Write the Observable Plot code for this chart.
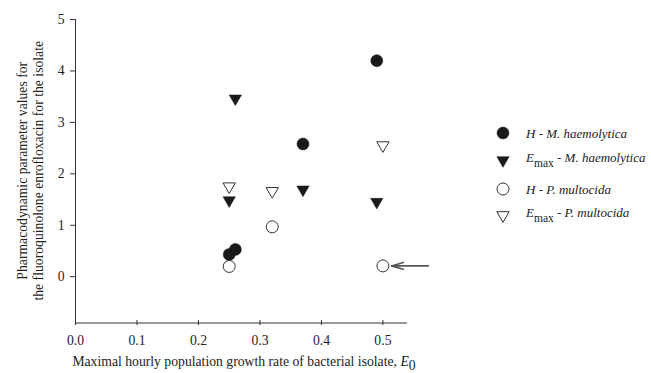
<!DOCTYPE html>
<html>
<head>
<meta charset="utf-8">
<script src="https://cdn.jsdelivr.net/npm/d3@7"></script>
<script src="https://cdn.jsdelivr.net/npm/@observablehq/plot@0.6"></script>
<style>
  html, body { margin: 0; padding: 0; background: #fff; }
  #chart { width: 651px; height: 373px; }
  svg { font-family: "Liberation Serif", "DejaVu Serif", serif; }
</style>
</head>
<body>
<div id="chart"></div>
<script>
// ---- data ----
const xTicks = [0, 0.1, 0.2, 0.3, 0.4, 0.5];
const yTicks = [0, 1, 2, 3, 4, 5];

// H - M. haemolytica (filled circles)
const hMhX = [0.25, 0.26, 0.37, 0.49];
const hMhY = [0.43, 0.53, 2.58, 4.20];
// Emax - M. haemolytica (filled down triangles)
const eMhX = [0.25, 0.26, 0.37, 0.49];
const eMhY = [1.45, 3.43, 1.66, 1.42];
// H - P. multocida (open circles)
const hPmX = [0.25, 0.32, 0.50];
const hPmY = [0.20, 0.97, 0.21];
// Emax - P. multocida (open down triangles)
const ePmX = [0.25, 0.32, 0.50];
const ePmY = [1.72, 1.63, 2.52];

// annotation arrow pointing at the P. multocida point at E0 = 0.5
const arrowX1 = [0.574];
const arrowX2 = [0.514];
const arrowY = [0.21];

const legendLabels = [
  {sym: "circle", filled: true,  main: "H", sub: null,  rest: " - M. haemolytica"},
  {sym: "tri",    filled: true,  main: "E", sub: "max", rest: " - M. haemolytica"},
  {sym: "circle", filled: false, main: "H", sub: null,  rest: " - P. multocida"},
  {sym: "tri",    filled: false, main: "E", sub: "max", rest: " - P. multocida"}
];

const yLabelLines = ["Pharmacodynamic parameter values for", "the fluoroquinolone enrofloxacin for the isolate"];
const xLabelMain = "Maximal hourly population growth rate of bacterial isolate, ";

// ---- helpers ----
const zip = (xs, ys) => xs.map((x, i) => ({x, y: ys[i]}));
// down-pointing triangle, centred on its bounding box
const downTriangle = {
  draw(context, size) {
    const w = Math.sqrt(size * 2.3);       // width
    const h = w * 0.86;                    // height
    context.moveTo(-w / 2, -h / 2);
    context.lineTo(w / 2, -h / 2);
    context.lineTo(0, h / 2);
    context.closePath();
  }
};

const ink = "#1a1a1a";
const txt = "#222";
const fs = 13.7;
const legFs = 13;
const triR = 4.6;
const circR = 6;

const plot = Plot.plot({
  width: 651,
  height: 373,
  marginLeft: 75,
  marginRight: 244,
  marginTop: 19,
  marginBottom: 50.5,
  style: {fontFamily: "Liberation Serif", fontSize: fs + "px", color: txt, background: "#fff"},
  x: {domain: [0, 0.54]},
  y: {domain: [-0.9, 5]},
  marks: [
    Plot.ruleX([0], {stroke: "#333", strokeWidth: 1}),
    Plot.ruleY([-0.9], {stroke: "#333", strokeWidth: 1}),
    Plot.axisY({ticks: yTicks, tickSize: 5, tickPadding: 6, tickFormat: d3.format("d"), label: null, stroke: "#333"}),
    Plot.axisX({ticks: xTicks, tickSize: 5, dy: -2.5, fill: "none", label: null, stroke: "#333"}),
    Plot.axisX({ticks: xTicks, tickSize: 0, tickPadding: 12, tickFormat: d3.format(".1f"), label: null}),
    Plot.dot(zip(hMhX, hMhY), {x: "x", y: "y", symbol: "circle", r: circR, fill: ink, stroke: ink, strokeWidth: 0.5}),
    Plot.dot(zip(eMhX, eMhY), {x: "x", y: "y", symbol: downTriangle, r: triR, fill: ink, stroke: ink, strokeWidth: 0.5}),
    Plot.dot(zip(hPmX, hPmY), {x: "x", y: "y", symbol: "circle", r: circR, fill: "#fff", stroke: "#333", strokeWidth: 1}),
    Plot.dot(zip(ePmX, ePmY), {x: "x", y: "y", symbol: downTriangle, r: triR, fill: "#fff", stroke: "#333", strokeWidth: 1}),
    Plot.arrow(arrowX1.map((x1, i) => ({x1, x2: arrowX2[i], y: arrowY[i]})), {
      x1: "x1", x2: "x2", y1: "y", y2: "y", stroke: "#555", strokeWidth: 1.6,
      headAngle: 32, headLength: 22, clip: false
    })
  ]
});

const svg = d3.select(plot);
const ys = plot.scale("y");

// y-axis title (two lines, rotated)
const cy = (ys.apply(5) + ys.apply(-0.9)) / 2;
[27, 43].forEach((bx, i) => {
  svg.append("text")
    .attr("transform", `translate(${bx},${cy}) rotate(-90)`)
    .attr("text-anchor", "middle")
    .attr("fill", txt)
    .attr("font-size", fs)
    .text(yLabelLines[i]);
});

// x-axis title with E0 subscript
const xt = svg.append("text")
  .attr("x", 244).attr("y", 366)
  .attr("text-anchor", "middle")
  .attr("fill", txt)
  .attr("font-size", fs);
xt.append("tspan").text(xLabelMain);
xt.append("tspan").attr("font-style", "italic").text("E");
xt.append("tspan").attr("dy", 4).text("0");

// legend
const legX = 503, textX = 526;
const rowY = [133, 162, 189, 217];
legendLabels.forEach((d, i) => {
  const y = rowY[i];
  const sym = d.sym === "circle" ? d3.symbolCircle : downTriangle;
  const r = d.sym === "circle" ? circR : triR;
  svg.append("path")
    .attr("transform", `translate(${legX},${y})`)
    .attr("d", d3.symbol(sym, Math.PI * r * r)())
    .attr("fill", d.filled ? ink : "#fff")
    .attr("stroke", d.filled ? ink : "#333")
    .attr("stroke-width", d.filled ? 0.5 : 1);
  const base = d.sub ? y - 0.5 : y + 4.5;
  const t = svg.append("text")
    .attr("x", textX).attr("y", base)
    .attr("text-anchor", "start")
    .attr("fill", txt)
    .attr("font-size", legFs);
  t.append("tspan").attr("font-style", "italic").text(d.main);
  if (d.sub) {
    t.append("tspan").attr("dy", 5).attr("font-size", 11.5).text(d.sub);
    t.append("tspan").attr("dy", -5).attr("font-style", "italic").text(d.rest);
  } else {
    t.append("tspan").attr("font-style", "italic").text(d.rest);
  }
});

document.getElementById("chart").appendChild(plot);
</script>
</body>
</html>
